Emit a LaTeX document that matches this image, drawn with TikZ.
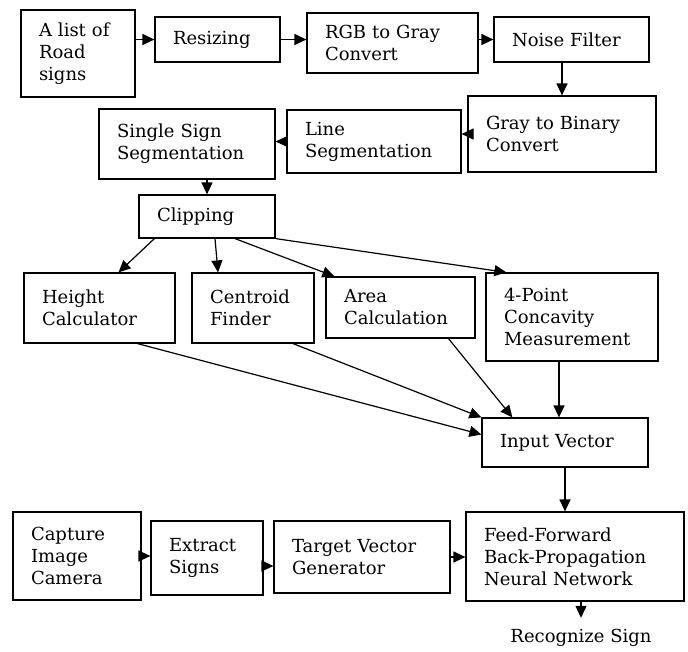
\documentclass[tikz,border=0pt]{standalone}
\usepackage{fontspec}
\setmainfont{DejaVu Serif}
\usetikzlibrary{arrows.meta}

\begin{document}
\begin{tikzpicture}[x=1pt,y=-1pt,
    blk/.style={draw,line width=1.2pt,inner xsep=18pt,inner ysep=0pt,align=left,
      font=\fontsize{18}{22}\selectfont},
    arr/.style={line width=1.2pt,-{Triangle[length=12pt,width=11pt]}}]
    \useasboundingbox (0,0) rectangle (688,651);
    \node[blk,text width=78pt,minimum height=87pt] (list) at (78,53.5) {A list of\\Road\\signs};
    \node[blk,text width=89pt,minimum height=45pt] (resize) at (217.5,39.5) {Resizing};
    \node[blk,text width=135pt,minimum height=60pt] (rgb) at (392.5,43) {RGB to Gray\\Convert};
    \node[blk,text width=119pt,minimum height=45pt] (noise) at (571.5,39.5) {Noise Filter};
    \node[blk,text width=152pt,minimum height=76pt] (gray) at (562,134) {Gray to Binary\\Convert};
    \node[blk,text width=138pt,minimum height=63pt] (line) at (374,141.5) {Line\\Segmentation};
    \node[blk,text width=140pt,minimum height=70pt] (single) at (187,144) {Single Sign\\Segmentation};
    \node[blk,text width=100pt,minimum height=43pt] (clip) at (207,216.5) {Clipping};
    \node[blk,text width=115pt,minimum height=70pt] (height) at (99.5,308) {Height\\Calculator};
    \node[blk,text width=86pt,minimum height=70pt] (centroid) at (253,308) {Centroid\\Finder};
    \node[blk,text width=113pt,minimum height=61pt] (area) at (400.5,307.5) {Area\\Calculation};
    \node[blk,text width=136pt,minimum height=88pt] (concav) at (572,317) {4-Point\\Concavity\\Measurement};
    \node[blk,text width=130pt,minimum height=49pt] (input) at (565,442.5) {Input Vector};
    \node[blk,text width=92pt,minimum height=88pt] (capture) at (77,556) {Capture\\Image\\Camera};
    \node[blk,text width=76pt,minimum height=74pt] (extract) at (207,558) {Extract\\Signs};
    \node[blk,text width=140pt,minimum height=72pt] (target) at (362,557) {Target Vector\\Generator};
    \node[blk,text width=182pt,minimum height=89pt] (ff) at (575,556.5) {Feed-Forward\\Back-Propagation\\Neural Network};
    \node[font=\fontsize{18}{22}\selectfont] (rec) at (581,638) {Recognize Sign};

    \draw[arr] (list.east |- resize) -- (resize.west);
    \draw[arr] (resize) -- (resize -| rgb.west);
    \draw[arr] (rgb.east |- noise) -- (noise.west);
    \draw[arr] (gray |- noise.south) -- (gray.north);
    \draw[arr] (gray.west) -- (gray.west -| line.east);
    \draw[arr] (line.west) -- (line.west -| single.east);
    \draw[arr] (single.south -| clip) -- (clip.north);

    \draw[arr] ([xshift=16pt]clip.south west) -- ([xshift=19pt]height.north);
    \draw[arr] ([xshift=8pt]clip.south) -- ([xshift=-35pt]centroid.north);
    \draw[arr] ([xshift=28pt]clip.south) -- ([xshift=9pt]area.north west);
    \draw[arr] (clip.south east) -- ([xshift=21pt]concav.north west);

    \draw[arr] ([xshift=38pt]height.south) -- ([yshift=8pt]input.west);
    \draw[arr] ([xshift=40pt]centroid.south) -- (input.north west);
    \draw[arr] ([xshift=48pt]area.south) -- ([xshift=31pt]input.north west);
    \draw[arr] ([xshift=-6pt]input.north |- concav.south) -- ([xshift=-6pt]input.north);
    \draw[arr] (input.south) -- (input.south |- ff.north);

    \draw[arr] (capture.east) -- (capture.east -| extract.west);
    \draw[arr] ([yshift=-8pt]extract.east) -- ([yshift=-8pt]extract.east -| target.west);
    \draw[arr] (target.east) -- (target.east -| ff.west);
    \draw[arr] (ff.south -| rec) -- ([yshift=8pt]rec.north);
\end{tikzpicture}
\end{document}
